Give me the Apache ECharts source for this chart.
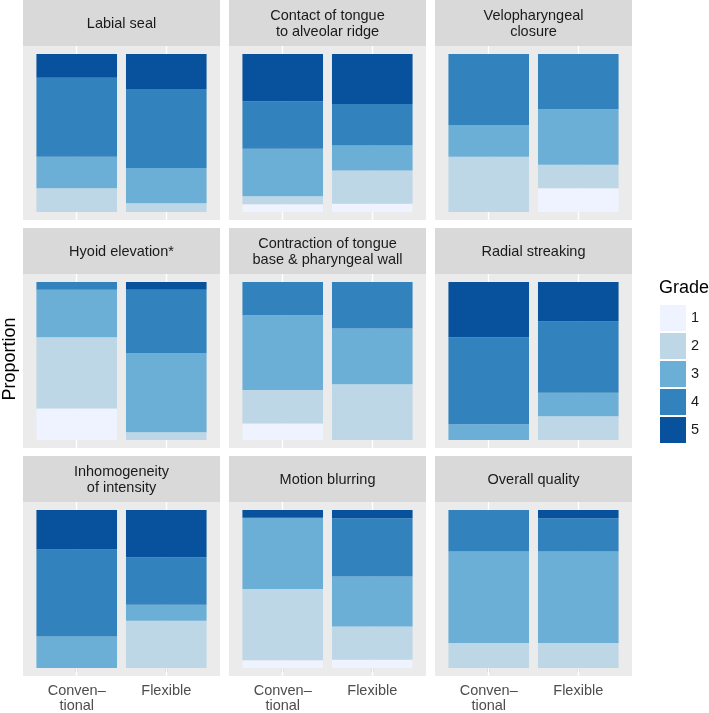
<!DOCTYPE html>
<html>
<head>
<meta charset="utf-8">
<script src="https://cdn.jsdelivr.net/npm/echarts@6/dist/echarts.min.js"></script>
<style>
  html, body { margin: 0; padding: 0; background: #fff; }
  #chart { width: 709px; height: 713px; }
</style>
</head>
<body>
<div id="chart"></div>
<script>
// facet titles, row by row
var panels = [
  'Labial seal', 'Contact of tongue\nto alveolar ridge', 'Velopharyngeal\nclosure',
  'Hyoid elevation*', 'Contraction of tongue\nbase & pharyngeal wall', 'Radial streaking',
  'Inhomogeneity\nof intensity', 'Motion blurring', 'Overall quality'
]
var devices = ['Conven\u2013\ntional', 'Flexible']
var grades = ['1', '2', '3', '4', '5']
var gradeColors = ['#EFF3FF', '#BDD7E7', '#6BAED6', '#3182BD', '#08519C']

// proportions of grade 1..5, one row per panel
var conventional = [
  [0, 0.15, 0.2, 0.5, 0.15],
  [0.05, 0.05, 0.3, 0.3, 0.3],
  [0, 0.35, 0.2, 0.45, 0],
  [0.2, 0.45, 0.3, 0.05, 0],
  [0.105, 0.211, 0.474, 0.21, 0],
  [0, 0, 0.1, 0.55, 0.35],
  [0, 0, 0.2, 0.55, 0.25],
  [0.05, 0.45, 0.45, 0, 0.05],
  [0, 0.158, 0.579, 0.263, 0]
]
var flexible = [
  [0, 0.056, 0.222, 0.5, 0.222],
  [0.053, 0.21, 0.158, 0.263, 0.316],
  [0.15, 0.15, 0.35, 0.35, 0],
  [0, 0.05, 0.5, 0.4, 0.05],
  [0, 0.353, 0.353, 0.294, 0],
  [0, 0.15, 0.15, 0.45, 0.25],
  [0, 0.3, 0.1, 0.3, 0.3],
  [0.053, 0.21, 0.316, 0.368, 0.053],
  [0, 0.158, 0.579, 0.21, 0.053]
]

var colX = [23, 229, 435]
var rowY = [0, 228, 456]
var panelW = 197
var panelH = 174
var stripH = 46
var font = 'Liberation Sans, Arial, Helvetica, sans-serif'

var chart = echarts.init(document.getElementById('chart'))

var grids = [], xAxes = [], yAxes = [], series = [], graphics = []
// ggplot discrete scale: 2 categories + 0.6 expansion each side
var unit = panelW / 2.2

panels.forEach(function (title, i) {
  var c = i % 3
  var r = Math.floor(i / 3)
  var bottom = r === 2
  // panel background + strip
  graphics.push({
    type: 'rect', left: colX[c], top: rowY[r] + stripH, silent: true, z: 0,
    shape: { width: panelW, height: panelH },
    style: { fill: '#EBEBEB' }
  })
  graphics.push({
    type: 'rect', left: colX[c], top: rowY[r], silent: true, z: 0,
    shape: { width: panelW, height: stripH },
    style: { fill: '#D9D9D9' }
  })
  graphics.push({
    type: 'text', silent: true, z: 1,
    x: colX[c] + panelW / 2, y: rowY[r] + stripH / 2 + 0.5,
    style: {
      text: title, fill: '#1A1A1A', font: '14.5px ' + font, lineHeight: 16,
      align: 'center', verticalAlign: 'middle'
    }
  })
  grids.push({
    left: colX[c] + 0.1 * unit, top: rowY[r] + stripH, width: 2 * unit, height: panelH
  })
  xAxes.push({
    type: 'category', gridIndex: i, data: devices,
    axisLine: { show: false },
    splitLine: { show: false },
    axisTick: { show: bottom, alignWithLabel: true, length: 4, lineStyle: { color: '#333', width: 1.2 } },
    axisLabel: {
      show: bottom, margin: 7, interval: 0,
      fontFamily: font, fontSize: 14.5, color: '#4D4D4D', lineHeight: 15
    }
  })
  yAxes.push({
    type: 'value', gridIndex: i, min: -0.05, max: 1.05,
    axisLine: { show: false }, axisTick: { show: false },
    axisLabel: { show: false }, splitLine: { show: false }
  })
  // white vertical gridlines behind the bars
  series.push({
    type: 'line', xAxisIndex: i, yAxisIndex: i, data: [], silent: true,
    markLine: {
      silent: true, symbol: 'none', z: 1, animation: false,
      label: { show: false },
      lineStyle: { color: '#FFFFFF', width: 1.3, type: 'solid' },
      data: [{ xAxis: devices[0] }, { xAxis: devices[1] }]
    }
  })
  grades.forEach(function (g, k) {
    series.push({
      type: 'bar', name: g, xAxisIndex: i, yAxisIndex: i, stack: 'p' + i, z: 2,
      barWidth: '90%',
      itemStyle: { color: gradeColors[k] },
      data: [conventional[i][k], flexible[i][k]]
    })
  })
})

graphics.push({
  type: 'text', silent: true, x: 10, y: 359, rotation: Math.PI / 2,
  style: { text: 'Proportion', fill: '#000', font: '18px ' + font, align: 'center', verticalAlign: 'middle' }
})
graphics.push({
  type: 'text', silent: true, x: 659, y: 288,
  style: { text: 'Grade', fill: '#000', font: '18px ' + font, align: 'left', verticalAlign: 'middle' }
})

chart.setOption({
  animation: false,
  graphic: graphics,
  grid: grids,
  xAxis: xAxes,
  yAxis: yAxes,
  series: series,
  legend: {
    data: grades, orient: 'vertical', left: 660, top: 305,
    itemWidth: 26, itemHeight: 26, itemGap: 2, icon: 'rect',
    selectedMode: false, padding: 0,
    textStyle: { fontFamily: font, fontSize: 14.5, color: '#1A1A1A' }
  }
})
</script>
</body>
</html>
